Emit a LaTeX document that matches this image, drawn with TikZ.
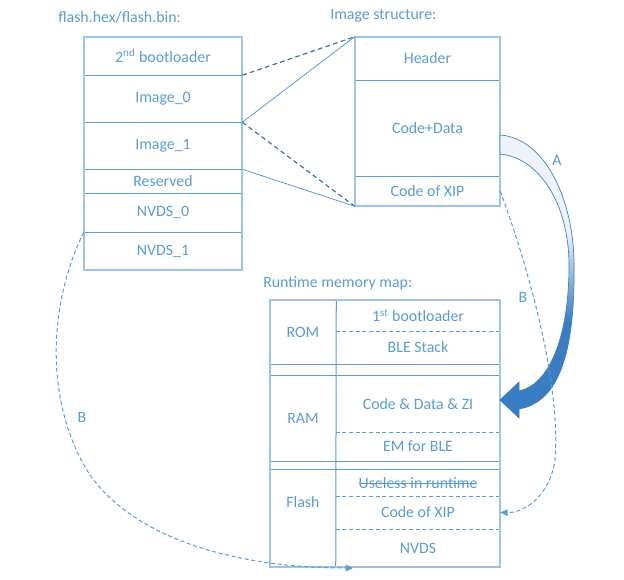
\documentclass[tikz,border=0pt]{standalone}
\usepackage{fontspec}
\setmainfont{Carlito}
\usetikzlibrary{arrows.meta}
\definecolor{txt}{HTML}{5B9BD5}
\definecolor{ln}{HTML}{5B9BD5}
\definecolor{edge}{HTML}{9DC3E6}
\definecolor{dk}{HTML}{41719C}
\definecolor{arrdark}{HTML}{3A7DC2}
\definecolor{arrlight}{HTML}{EEF2FA}
\pgfdeclareverticalshading{arrowA}{100bp}{color(0bp)=(arrdark); color(42bp)=(arrdark); color(58bp)=(arrlight); color(100bp)=(arrlight)}
\newcommand{\strikeit}[1]{\setbox0\hbox{#1}\rlap{\raisebox{0.3em}{\rule{\wd0}{0.5pt}}}\box0}
\begin{document}
\begin{tikzpicture}[x=0.75pt,y=-0.75pt,
  cell/.style={inner sep=0pt, text=txt, font=\fontsize{11.9}{13}\selectfont},
  title/.style={anchor=west, inner sep=0pt, text=txt, font=\fontsize{11.9}{13}\selectfont},
  border/.style={draw=edge, line width=1.5pt},
  sepline/.style={draw=ln, line width=0.75pt},
  dsep/.style={draw=ln, line width=0.75pt, dash pattern=on 3pt off 2pt},
  link/.style={draw=ln, line width=0.6pt},
  dlink/.style={draw=dk, line width=0.9pt, dash pattern=on 3.5pt off 2.5pt},
  flow/.style={draw=ln, line width=0.75pt, dash pattern=on 3pt off 2pt, -{Triangle[length=5.5pt,width=5pt]}},
]
\useasboundingbox (0,0) rectangle (624,580);

% titles
\node[title] (t1) at (58,17) {flash.hex/flash.bin:};
\node[title] (t2) at (330,16) {Image structure:};
\node[title] (t3) at (263,283) {Runtime memory map:};

% left block
\node[cell, minimum width=158*0.75pt, minimum height=38*0.75pt] (boot2) at (163,56) {2\textsuperscript{nd} bootloader};
\node[cell, minimum width=158*0.75pt, minimum height=47*0.75pt] (img0) at (163,98.5) {Image\_0};
\node[cell, minimum width=158*0.75pt, minimum height=47*0.75pt] (img1) at (163,145.5) {Image\_1};
\node[cell, minimum width=158*0.75pt, minimum height=24*0.75pt] (rsv) at (163,181) {Reserved};
\node[cell, minimum width=158*0.75pt, minimum height=39*0.75pt] (nvds0) at (163,212.5) {NVDS\_0};
\node[cell, minimum width=158*0.75pt, minimum height=38*0.75pt] (nvds1) at (163,251) {NVDS\_1};
\draw[sepline] (boot2.south west) -- (boot2.south east);
\draw[sepline] (img0.south west) -- (img0.south east);
\draw[sepline] (img1.south west) -- (img1.south east);
\draw[sepline] (rsv.south west) -- (rsv.south east);
\draw[sepline] (nvds0.south west) -- (nvds0.south east);
\draw[border] (boot2.north west) rectangle (nvds1.south east);

% image structure
\node[cell, minimum width=145*0.75pt, minimum height=43*0.75pt] (hdr) at (427.5,58.5) {Header};
\node[cell, minimum width=145*0.75pt, minimum height=96*0.75pt] (cd) at (427.5,128) {Code+Data};
\node[cell, minimum width=145*0.75pt, minimum height=30*0.75pt] (xip) at (427.5,191) {Code of XIP};
\draw[sepline] (hdr.south west) -- (hdr.south east);
\draw[sepline] (cd.south west) -- (cd.south east);
\draw[border] (hdr.north west) rectangle (xip.south east);

% links
\draw[dlink] (boot2.south east) -- (hdr.north west);
\draw[link] (img0.south east) -- (hdr.north west);
\draw[dlink] (img0.south east) -- (xip.south west);
\draw[link] (img1.south east) -- (xip.south west);

% runtime memory map
\node[cell, minimum width=66*0.75pt, minimum height=64*0.75pt] (rom) at (303,332) {ROM};
\node[cell, minimum width=66*0.75pt, minimum height=85*0.75pt] (ram) at (303,418.5) {RAM};
\node[cell] (flashl) at (303,502) {Flash};
\node[cell, minimum width=164*0.75pt, minimum height=31*0.75pt] (boot1) at (418,315.5) {1\textsuperscript{st} bootloader};
\node[cell, minimum width=164*0.75pt, minimum height=33*0.75pt] (ble) at (418,347.5) {BLE Stack};
\node[cell, minimum width=164*0.75pt, minimum height=56*0.75pt] (codem) at (418,404) {Code \& Data \& ZI};
\node[cell, minimum width=164*0.75pt, minimum height=29*0.75pt] (em) at (418,446.5) {EM for BLE};
\node[cell, minimum width=164*0.75pt, minimum height=26*0.75pt] (useless) at (418,483) {\strikeit{Useless in runtime}};
\node[cell, minimum width=164*0.75pt, minimum height=33*0.75pt] (xipm) at (418,512.5) {Code of XIP};
\node[cell, minimum width=164*0.75pt, minimum height=38*0.75pt] (nvdsm) at (418,548) {NVDS};

\draw[sepline] (rom.north east) -- (nvdsm.south west);
\draw[sepline] (rom.south west) -- (ble.south east);
\draw[sepline] (ram.north west) -- (codem.north east);
\draw[sepline] (ram.south west) -- (em.south east);
\draw[sepline] (useless.north -| rom.west) -- (useless.north east);
\draw[dsep] (boot1.south west) -- (boot1.south east);
\draw[dsep] (codem.south west) -- (codem.south east);
\draw[dsep] (useless.south west) -- (useless.south east);
\draw[dsep] (xipm.south west) -- (xipm.south east);
\draw[border] (rom.north west) rectangle (nvdsm.south east);

% arrow A
\draw[draw=arrdark, line width=0.5pt, shading=arrowA]
  (500,135) .. controls (545,138) and (574,200) .. (574,265)
  .. controls (575,350) and (560,402) .. (519,409)
  -- (519,418) -- (500,400) -- (519,382) -- (519,391)
  .. controls (548,385) and (569,340) .. (569,265)
  .. controls (569,205) and (540,158) .. (500,154) -- cycle;
\node[cell] (la) at (557,160) {A};

% B flows
\coordinate (bend) at (353,568);
\draw[flow] (xip.east) .. controls (540,300) and (560,400) .. (555,460)
  .. controls (550,495) and (525,513) .. (xipm.east);
\node[cell] (lb1) at (523,297) {B};
\draw[flow] (nvds0.south west) .. controls (50,300) and (42,400) .. (90,475)
  .. controls (140,545) and (250,568) .. (bend);
\node[cell] (lb2) at (82,417) {B};
\end{tikzpicture}
\end{document}
